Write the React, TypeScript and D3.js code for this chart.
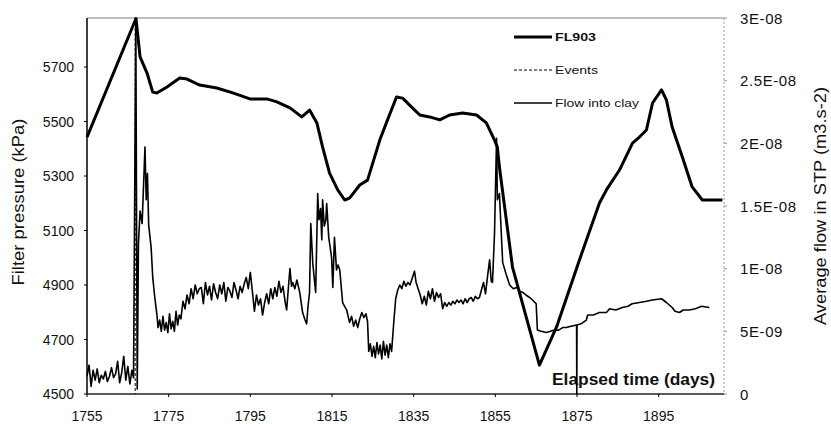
import React from "react";
import { scaleLinear, line } from "d3";

// FL903 filter pressure, [elapsed day, kPa]
const fl903: [number, number][] = [
  [1755, 5443], [1767.0, 5878], [1768.0, 5737], [1769.7, 5678], [1771.1, 5608],
  [1772.1, 5605], [1774.6, 5627], [1777.7, 5660], [1779.5, 5656], [1782.6, 5634],
  [1786.8, 5623], [1790.7, 5605], [1794.9, 5583], [1799.0, 5583], [1801.5, 5572],
  [1804.7, 5550], [1807.6, 5517], [1809.5, 5542], [1811.3, 5495], [1812.7, 5406],
  [1814.4, 5311], [1816.4, 5249], [1818.1, 5212], [1819.3, 5219], [1821.8, 5267],
  [1823.7, 5285], [1826.7, 5432], [1828.6, 5506], [1830.8, 5590], [1832.3, 5586],
  [1834.5, 5553], [1836.5, 5524], [1838.9, 5517], [1841.4, 5506], [1843.8, 5524],
  [1847.0, 5531], [1850.4, 5524], [1852.8, 5495], [1854.8, 5432], [1855.5, 5406],
  [1856.0, 5333], [1859.2, 4966], [1865.8, 4606], [1870.0, 4746], [1875.6, 4992],
  [1880.5, 5201], [1882.2, 5249], [1885.4, 5322], [1888.6, 5421], [1890.3, 5443],
  [1892.0, 5469], [1893.5, 5568], [1895.7, 5616], [1896.9, 5579], [1898.3, 5480],
  [1900.8, 5370], [1903.2, 5260], [1905.7, 5212], [1910.6, 5212],
];

// average flow into clay, [elapsed day, value in 1E-09 m3.s-2]
const flowIntoClay: [number, number][] = [
  [1755, 1.4], [1755.5, 2.3], [1756, 0.6], [1756.5, 1.9], [1757, 1.1], [1757.5, 2.0],
  [1758, 0.9], [1758.5, 1.5], [1759, 1.2], [1759.5, 1.8], [1760, 1.0], [1760.5, 1.4],
  [1761, 2.1], [1761.5, 1.3], [1762, 1.6], [1762.5, 2.6], [1763, 0.9], [1763.5, 1.7],
  [1764, 3.0], [1764.5, 1.1], [1765, 2.2], [1765.5, 0.8], [1766, 1.9], [1766.4, 1.3],
  [1766.95, 30], [1767.3, 0.4], [1767.6, 12.0], [1768.0, 14.6], [1768.5, 13.6],
  [1769.2, 19.7], [1769.5, 15.5], [1769.8, 17.6], [1770.1, 13.5], [1770.7, 11.7],
  [1771.1, 9.3], [1771.6, 7.7], [1772.1, 6.4], [1772.4, 5.3],
  [1772.8, 5.9], [1773.2, 5.0], [1773.6, 6.2], [1774.0, 5.1], [1774.4, 5.7], [1774.8, 4.9],
  [1775.2, 6.4], [1775.6, 5.2], [1776.0, 5.8], [1776.4, 5.0], [1776.8, 6.6], [1777.2, 5.5],
  [1777.6, 6.3], [1778.0, 6.0], [1778.5, 7.4], [1779.0, 6.8], [1779.5, 7.9], [1780.0, 7.2],
  [1780.5, 8.4], [1781.0, 7.6], [1781.5, 8.7], [1782.0, 8.0], [1782.5, 8.4],
  [1783, 8.5], [1783.5, 7.2], [1784, 8.9], [1784.5, 7.9], [1785, 8.6], [1785.5, 7.5],
  [1786, 8.8], [1786.5, 8.1], [1787, 7.6], [1787.5, 8.7], [1788, 8.0], [1788.5, 8.9],
  [1789, 7.4], [1789.5, 8.5], [1790, 8.2], [1790.5, 7.7], [1791, 8.9], [1791.5, 8.3],
  [1792, 7.6], [1792.5, 8.6], [1793, 8.1], [1793.5, 8.8], [1794, 9.3], [1794.5, 8.4],
  [1795, 9.7], [1795.5, 8.2], [1796, 6.6], [1796.5, 7.9], [1797, 7.1], [1797.5, 7.6],
  [1798, 6.3], [1798.5, 7.3], [1799, 8.0], [1799.5, 7.2], [1800, 8.4], [1800.5, 7.6],
  [1801, 8.5], [1801.5, 7.8], [1802, 9.0], [1802.5, 8.1], [1803, 8.6], [1803.5, 7.4],
  [1803.9, 6.7], [1804.3, 8.4], [1804.7, 10.0], [1805.1, 8.6], [1805.4, 8.9],
  [1805.9, 8.4], [1806.4, 9.1],
  [1807.1, 8.1], [1807.8, 6.5], [1808.4, 5.9], [1808.8, 5.6], [1809.1, 6.9], [1809.5, 8.1],
  [1809.8, 13.6], [1810.3, 10.4], [1811.0, 8.1], [1811.5, 16.0], [1811.8, 13.9],
  [1812.2, 14.8], [1812.5, 12.3], [1812.7, 15.5], [1813.1, 13.4], [1813.5, 13.9],
  [1813.7, 15.2], [1814.2, 12.5], [1814.9, 10.9], [1815.2, 8.5], [1815.6, 12.5],
  [1816.1, 9.9], [1816.5, 10.3], [1816.9, 9.9], [1817.6, 7.3], [1818.1, 7.0], [1818.6, 6.7],
  [1819.3, 5.7], [1819.8, 6.2], [1820.3, 5.4], [1820.8, 5.9], [1821.3, 5.3], [1821.8, 6.0],
  [1822.3, 6.5], [1822.8, 6.1], [1823.3, 6.4], [1823.7, 5.8], [1824.0, 3.4], [1824.4, 4.0],
  [1824.8, 3.0], [1825.2, 3.8], [1825.6, 2.9], [1826.0, 4.1], [1826.4, 3.2], [1826.8, 3.9],
  [1827.2, 2.8], [1827.6, 4.2], [1828.0, 3.1], [1828.4, 3.9], [1828.8, 2.9], [1829.2, 4.0],
  [1829.6, 3.4], [1830.1, 5.6], [1830.6, 7.6], [1831.1, 8.3],
  [1831.6, 8.7], [1832.1, 8.4], [1832.6, 9.0], [1833.1, 8.6], [1833.6, 8.9], [1834.1, 8.7],
  [1834.6, 9.2], [1835.2, 9.8], [1835.6, 8.9], [1836.1, 8.4], [1836.6, 7.9], [1837.1, 7.2],
  [1837.6, 7.8], [1838.1, 7.1], [1838.6, 8.2], [1839.1, 7.6], [1839.6, 8.4], [1840.1, 7.4],
  [1840.6, 8.1], [1841.1, 7.7], [1841.6, 8.0], [1842.1, 6.8], [1842.6, 7.3], [1843.1, 7.0],
  [1843.6, 7.3], [1844.1, 7.1], [1844.6, 7.4], [1845.1, 7.2], [1845.6, 7.5], [1846.1, 7.3],
  [1846.6, 7.5], [1847.1, 7.2], [1847.6, 7.6], [1848.1, 7.3], [1848.6, 7.6], [1849.1, 7.7],
  [1849.6, 7.4], [1850.1, 7.8], [1850.6, 7.6], [1851.1, 7.7],
  [1851.6, 8.3], [1852.1, 8.9], [1852.6, 8.0], [1853.1, 9.4], [1853.6, 10.7], [1854.0, 9.0],
  [1854.3, 8.9], [1854.8, 12.8], [1855.3, 20.4], [1855.5, 15.5], [1856.0, 16.0],
  [1856.8, 10.5], [1857.6, 9.6], [1858.5, 8.7], [1859.4, 8.4], [1860.2, 8.5], [1861.0, 8.2],
  [1861.7, 8.1], [1862.5, 7.9], [1863.4, 7.7], [1864.1, 7.5], [1865.0, 7.2], [1865.3, 5.1],
  [1866.2, 5.0], [1867.5, 4.9], [1868.5, 5.0], [1869.5, 5.1], [1870.5, 5.1], [1871.5, 5.3],
  [1872.4, 5.3], [1873.5, 5.4], [1874.9, 5.5], [1874.95, 0], [1875.0, 5.5],
  [1876.0, 5.6], [1877.3, 5.9], [1877.6, 6.3], [1879.0, 6.3], [1880.5, 6.5], [1882.2, 6.5],
  [1883.0, 6.8], [1884.5, 6.7], [1886.1, 6.9], [1887.5, 7.0], [1888.5, 7.2], [1890.3, 7.3],
  [1892.0, 7.4], [1893.5, 7.5], [1895.7, 7.6], [1896.9, 7.3], [1898.3, 6.9], [1899.0, 6.6],
  [1900.1, 6.5], [1901.0, 6.7], [1902.5, 6.7], [1904.0, 6.8], [1905.5, 7.0], [1907.4, 6.9],
];

const eventDays = [1766.8];

const dayTicks = [1755, 1775, 1795, 1815, 1835, 1855, 1875, 1895];
const pressureTicks = [4500, 4700, 4900, 5100, 5300, 5500, 5700];
const flowTicks = [0, 5, 10, 15, 20, 25, 30];
const flowTickLabels = ["0", "5E-09", "1E-08", "1.5E-08", "2E-08", "2.5E-08", "3E-08"];

const legendItems = [
  { label: "FL903", width: 3, dash: "none", len: 41 },
  { label: "Events", width: 1, dash: "3,2", len: 43 },
  { label: "Flow into clay", width: 1.5, dash: "none", len: 84 },
];

const FONT = "'Liberation Sans', Arial, sans-serif";

export default function App() {
  const width = 831;
  const height = 424;
  const left = 87, right = 724, top = 18, bottom = 394;

  const x = scaleLinear().domain([1755, 1911]).range([left, right]);
  const yP = scaleLinear().domain([4500, 5880]).range([bottom, top]);
  const yF = scaleLinear().domain([0, 30]).range([bottom, top]);

  const pressureLine = line<[number, number]>()
    .x(d => x(d[0]))
    .y(d => yP(d[1]));
  const flowLine = line<[number, number]>()
    .x(d => x(d[0]))
    .y(d => yF(d[1]));

  return (
    <svg
      width={width}
      height={height}
      style={{ position: "absolute", left: 0, top: 0, display: "block", background: "#fff" }}
      fontFamily={FONT}
    >
      {/* frame */}
      <line x1={left} x2={right} y1={top} y2={top} stroke="#808080" strokeWidth={1.2} />
      <line x1={right} x2={right} y1={top} y2={bottom} stroke="#999" strokeWidth={1} strokeDasharray="2,2" />
      <line x1={left} x2={left} y1={top} y2={bottom} stroke="#000" strokeWidth={1.5} />
      <line x1={left} x2={right} y1={bottom} y2={bottom} stroke="#222" strokeWidth={1.5} />

      {/* left axis */}
      {pressureTicks.map(t => (
        <g key={t}>
          <line x1={left - 3} x2={left} y1={yP(t)} y2={yP(t)} stroke="#000" />
          <text x={74} y={yP(t) + 5} textAnchor="end" fontSize={14} fill="#111">{t}</text>
        </g>
      ))}

      {/* right axis */}
      {flowTicks.map((t, i) => (
        <g key={t}>
          <line x1={right} x2={right + 3} y1={yF(t)} y2={yF(t)} stroke="#999" />
          <text x={740} y={yF(t) + 5.5} fontSize={15} fill="#111" letterSpacing={0.6}>{flowTickLabels[i]}</text>
        </g>
      ))}

      {/* bottom axis */}
      {dayTicks.map(t => (
        <g key={t}>
          <line x1={x(t)} x2={x(t)} y1={bottom} y2={bottom + 3} stroke="#000" />
          <text x={x(t)} y={421} textAnchor="middle" fontSize={14} fill="#111">{t}</text>
        </g>
      ))}

      {/* axis titles */}
      <text
        transform={`translate(24, 202) rotate(-90)`}
        textAnchor="middle"
        fontSize={16}
        textLength={167}
        lengthAdjust="spacingAndGlyphs"
        fill="#111"
      >
        Filter pressure (kPa)
      </text>
      <text
        transform={`translate(826, 206) rotate(-90)`}
        textAnchor="middle"
        fontSize={16}
        textLength={238}
        lengthAdjust="spacingAndGlyphs"
        fill="#111"
      >
        Average flow in STP (m3.s-2)
      </text>
      <text x={552} y={385} fontSize={16} fontWeight="bold" textLength={163} lengthAdjust="spacingAndGlyphs" fill="#111">
        Elapsed time (days)
      </text>

      {/* events */}
      {eventDays.map(d => (
        <line key={d} x1={x(d)} x2={x(d)} y1={top} y2={bottom} stroke="#000" strokeWidth={1} strokeDasharray="3,2" />
      ))}

      {/* series */}
      <path d={flowLine(flowIntoClay) || ""} fill="none" stroke="#000" strokeWidth={1.6} strokeLinejoin="round" />
      <path d={pressureLine(fl903) || ""} fill="none" stroke="#000" strokeWidth={3} strokeLinejoin="round" />

      {/* legend */}
      {legendItems.map((item, i) => {
        const ly = 37 + i * 33;
        return (
          <g key={item.label}>
            <line x1={514} x2={552} y1={ly} y2={ly} stroke="#000" strokeWidth={item.width} strokeDasharray={item.dash} />
            <text
              x={555}
              y={ly + 4}
              fontSize={11}
              fontWeight={i === 0 ? "bold" : "normal"}
              textLength={item.len}
              lengthAdjust="spacingAndGlyphs"
              fill="#111"
            >
              {item.label}
            </text>
          </g>
        );
      })}
    </svg>
  );
}
